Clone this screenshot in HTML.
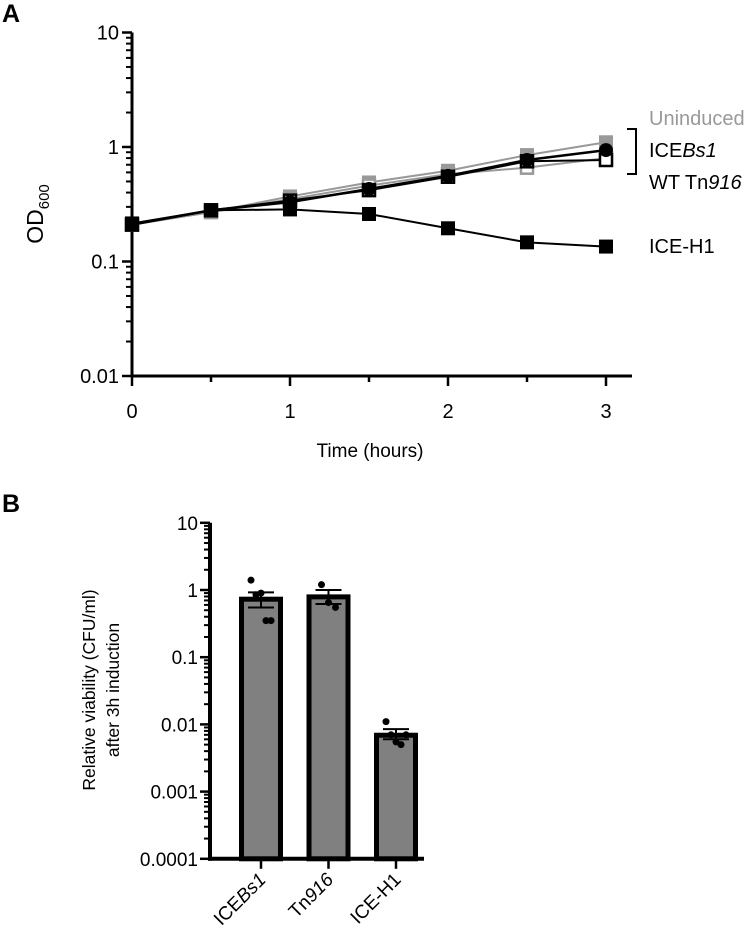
<!DOCTYPE html>
<html><head><meta charset="utf-8"><style>
body{margin:0;background:#fff}
svg text{font-family:"Liberation Sans","DejaVu Sans",sans-serif}
</style></head><body>
<svg id="s" width="750" height="936" viewBox="0 0 750 936" xmlns="http://www.w3.org/2000/svg">
<text x="2" y="22" font-size="25" font-weight="bold">A</text>
<text x="2" y="512" font-size="25" font-weight="bold">B</text>
<g id="A"></g>
<g id="B"></g>
</svg>
<script>
const NS='http://www.w3.org/2000/svg';
function mk(p,t,a){const e=document.createElementNS(NS,t);for(const k in a)e.setAttribute(k,a[k]);p.appendChild(e);return e;}
// Panel A data
const times=[0,0.5,1,1.5,2,2.5,3];
const uninducedBs1=[0.21,0.27,0.37,0.49,0.62,0.85,1.1];
const uninducedTn=[0.21,0.27,0.35,0.46,0.58,0.66,0.8];
const inducedBs1=[0.21,0.28,0.33,0.43,0.56,0.77,0.94];
const wtTn916=[0.21,0.28,0.34,0.42,0.55,0.75,0.77];
const iceH1=[0.215,0.28,0.285,0.26,0.195,0.147,0.135];
const aYTicks=[10,1,0.1,0.01];
const aYLabels=['10','1','0.1','0.01'];
const aXTicks=[0,1,2,3];
// Panel B data
const bCats=['ICEBs1','Tn916','ICE-H1'];
const bMeans=[0.73,0.79,0.0069];
const bErrHi=[0.92,1.0,0.0085];
const bErrLo=[0.55,0.62,0.006];
const bPoints=[[1.4,0.85,0.9,0.35,0.35],[1.2,0.65,0.55],[0.011,0.007,0.0055,0.005,0.007]];
const bYTicks=[10,1,0.1,0.01,0.001,0.0001];
const bYLabels=['10','1','0.1','0.01','0.001','0.0001'];

const A=document.getElementById('A');
const ax=t=>132+158*t, ay=v=>147-114.5*Math.log10(v);
let e=mk(A,'line',{x1:132,y1:ay(10),x2:132,y2:ay(0.01)+1.5,stroke:'#000','stroke-width':3});

e=mk(A,'line',{x1:130.5,y1:ay(0.01),x2:632,y2:ay(0.01),stroke:'#000','stroke-width':3});

for(let d=-2;d<1;d++)for(let m=2;m<10;m++){mk(A,'line',{x1:126,y1:ay(m*Math.pow(10,d)),x2:132,y2:ay(m*Math.pow(10,d)),stroke:'#000','stroke-width':2});}
aYTicks.forEach((v,i)=>{mk(A,'line',{x1:122,y1:ay(v),x2:132,y2:ay(v),stroke:'#000','stroke-width':2.5});
 const t=mk(A,'text',{x:119,y:ay(v)+7,'font-size':20,'text-anchor':'end'});t.textContent=aYLabels[i];
 });
for(let t=0;t<=3;t+=0.5)mk(A,'line',{x1:ax(t),y1:ay(0.01),x2:ax(t),y2:ay(0.01)+(t%1?6:10),stroke:'#000','stroke-width':2.5});
aXTicks.forEach(v=>{const t=mk(A,'text',{x:ax(v),y:418,'font-size':20,'text-anchor':'middle'});t.textContent=v;
 });
e=mk(A,'text',{x:370,y:457,'font-size':19,'text-anchor':'middle'});e.textContent='Time (hours)';

e=mk(A,'text',{transform:'translate(43,214) rotate(-90)','font-size':23,'text-anchor':'middle'});
e.innerHTML='OD<tspan font-size="15" dy="6">600</tspan>';

function series(vals,col,lw,mark,name){
 const g=mk(A,'g',{});
 mk(g,'polyline',{points:vals.map((v,i)=>ax(times[i])+','+ay(v)).join(' '),fill:'none',stroke:col,'stroke-width':lw});
 vals.forEach((v,i)=>{const x=ax(times[i]),y=ay(v);
  if(mark==='sq')mk(g,'rect',{x:x-7,y:y-7,width:14,height:14,fill:col});
  else if(mark==='open')mk(g,'rect',{x:x-6,y:y-6,width:12,height:12,fill:'#fff',stroke:col,'stroke-width':2.5});
  else mk(g,'circle',{cx:x,cy:y,r:7,fill:col});});
}
series(uninducedBs1,'#999',2,'sq','uninduced-icebs1-series');
series(uninducedTn,'#999',2,'open','uninduced-tn916-series');
series(wtTn916,'#000',2,'open','wt-tn916-series');
series(inducedBs1,'#000',2.5,'circ','icebs1-series');
series(iceH1,'#000',2,'sq','ice-h1-series');
function lbl(x,y,html,col,name){const t=mk(A,'text',{x:x,y:y,'font-size':20,fill:col});t.innerHTML=html;}
lbl(649,125,'Uninduced','#999','legend-uninduced');
lbl(649,157,'ICE<tspan font-style="italic">Bs1</tspan>','#000','legend-icebs1');
lbl(649,189,'WT Tn<tspan font-style="italic">916</tspan>','#000','legend-wt-tn916');
lbl(649,253,'ICE-H1','#000','legend-ice-h1');
mk(A,'polyline',{points:'627,129 636,129 636,174 627,174',fill:'none',stroke:'#000','stroke-width':2});

// Panel B
const B=document.getElementById('B');
const by=v=>590-67.2*Math.log10(v), bx=i=>261+67.5*i;
e=mk(B,'line',{x1:210,y1:by(10),x2:210,y2:by(0.0001)+2,stroke:'#000','stroke-width':4});

e=mk(B,'line',{x1:208,y1:by(0.0001),x2:424,y2:by(0.0001),stroke:'#000','stroke-width':4});

for(let d=-4;d<1;d++)for(let m=2;m<10;m++)mk(B,'line',{x1:204,y1:by(m*Math.pow(10,d)),x2:210,y2:by(m*Math.pow(10,d)),stroke:'#000','stroke-width':2});
bYTicks.forEach((v,i)=>{mk(B,'line',{x1:200,y1:by(v),x2:210,y2:by(v),stroke:'#000','stroke-width':2.5});
 const t=mk(B,'text',{x:198,y:by(v)+7,'font-size':19,'text-anchor':'end'});t.textContent=bYLabels[i];
 });
e=mk(B,'text',{transform:'translate(100,690) rotate(-90)','font-size':17.5,'text-anchor':'middle'});
e.innerHTML='<tspan x="0" dy="-5">Relative viability (CFU/ml)</tspan><tspan x="0" dy="24">after 3h induction</tspan>';

const catHtml=['ICE<tspan font-style="italic">Bs1</tspan>','Tn<tspan font-style="italic">916</tspan>','ICE-H1'];
bCats.forEach((c,i)=>{const x=bx(i);
 const g=mk(B,'g',{});
 mk(g,'rect',{x:x-19.5,y:by(bMeans[i]),width:39,height:by(0.0001)-by(bMeans[i]),fill:'#808080',stroke:'#000','stroke-width':5});
 mk(g,'line',{x1:x,y1:by(bErrHi[i]),x2:x,y2:by(bErrLo[i]),stroke:'#000','stroke-width':2});
 mk(g,'line',{x1:x-13,y1:by(bErrHi[i]),x2:x+13,y2:by(bErrHi[i]),stroke:'#000','stroke-width':2});
 mk(g,'line',{x1:x-13,y1:by(bErrLo[i]),x2:x+13,y2:by(bErrLo[i]),stroke:'#000','stroke-width':2});
 const n=bPoints[i].length;
 bPoints[i].forEach((v,j)=>{const off=n>1?(j-(n-1)/2)*(n>3?5:7):0;
  const p=mk(g,'circle',{cx:x+off,cy:by(v),r:3.5,fill:'#000'});});
 mk(B,'line',{x1:x,y1:by(0.0001),x2:x,y2:by(0.0001)+10,stroke:'#000','stroke-width':2.5});
 const t=mk(B,'text',{transform:`translate(${x+6},${by(0.0001)+22}) rotate(-45)`,'font-size':19,'text-anchor':'end'});
 t.innerHTML=catHtml[i];
});
</script>
</body></html>
